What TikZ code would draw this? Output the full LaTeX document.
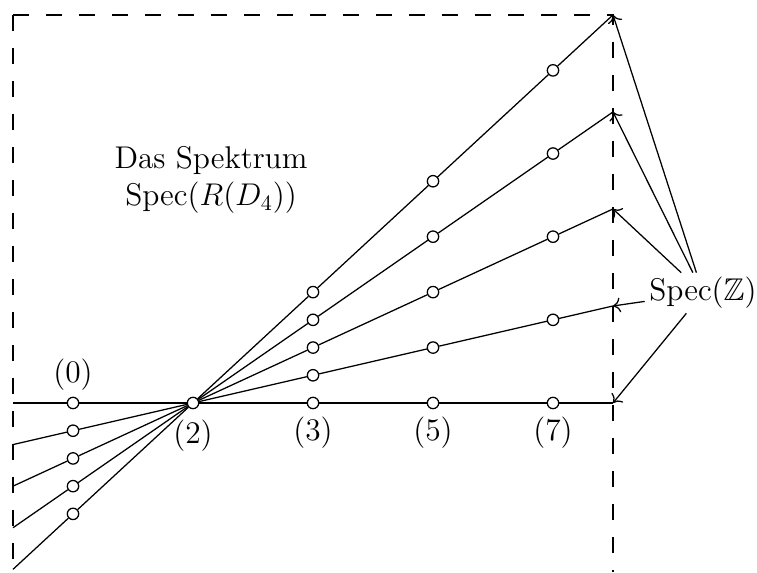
\documentclass[tikz,border=0pt]{standalone}
\usepackage{fix-cm}
\usepackage{amsmath, amssymb}
\usepackage{tikz}
\usetikzlibrary{positioning,arrows.meta,calc}

\begin{document}
\begin{tikzpicture}[
    pt/.style={circle, draw, fill=white, line width=0.6pt,
               inner sep=0pt, minimum size=0.19cm},
    lab/.style={inner sep=0pt, font=\fontsize{14.9}{17.8}\selectfont},
    frame/.style={dash pattern=on 0.27cm off 0.28cm, line width=0.6pt},
    fan/.style={line width=0.6pt},
    arrow/.style={-{Computer Modern Rightarrow[width=7pt,length=3.5pt]}, line width=0.6pt}
]
    \def\h{1.617}
    \useasboundingbox (-3.217,-2.817) rectangle (9.4,6.717);
    % dashed frame
    \draw[frame] (-3,6.467) -- (-3,-2.817);
    \draw[frame] (-3,6.467) -- (7,6.467) -- (7,-2.817);
    % the points on Spec(Z)
    \node[pt] (z0) at (-2,0) {};
    \node[pt] (z2) at (0,0) {};
    \node[pt] (z3) at (2,0) {};
    \node[pt] (z5) at (4,0) {};
    \node[pt] (z7) at (6,0) {};
    \coordinate (l0) at (-3,0);
    \coordinate (r0) at (7,0);
    \draw[fan] (l0) -- (z0) -- (z2) -- (z3) -- (z5) -- (z7) -- (r0);
    \node[lab, above=0.1cm of z0] (t0) {$(0)$};
    \node[lab, below=0.17cm of z2] (t2) {$(2)$};
    \node[lab, below=0.12cm of z3] (t3) {$(3)$};
    \node[lab, below=0.12cm of z5] (t5) {$(5)$};
    \node[lab, below=0.12cm of z7] (t7) {$(7)$};
    % the lines through (2)
    \foreach \k in {1,...,4} {
        \coordinate (l\k) at (-3,{-3*\k*\h/7});
        \coordinate (r\k) at (7,{\k*\h});
        \node[pt] (a\k) at (-2,{-2*\k*\h/7}) {};
        \node[pt] (b\k) at (2,{2*\k*\h/7}) {};
        \node[pt] (c\k) at (4,{4*\k*\h/7}) {};
        \node[pt] (d\k) at (6,{6*\k*\h/7}) {};
        \draw[fan] (l\k) -- (a\k) -- (z2) -- (b\k) -- (c\k) -- (d\k) -- (r\k);
    }
    \node[lab, align=center] (title) at (0.3,3.717) {Das Spektrum\\ $\mathrm{Spec}(R(D_4))$};
    \node[lab, inner sep=2pt] (specZ) at (8.5,1.833) {$\mathrm{Spec}(\mathbb{Z})$};
    \foreach \k in {0,...,4}
        \draw[arrow] (specZ) -- (r\k);
\end{tikzpicture}
\end{document}
